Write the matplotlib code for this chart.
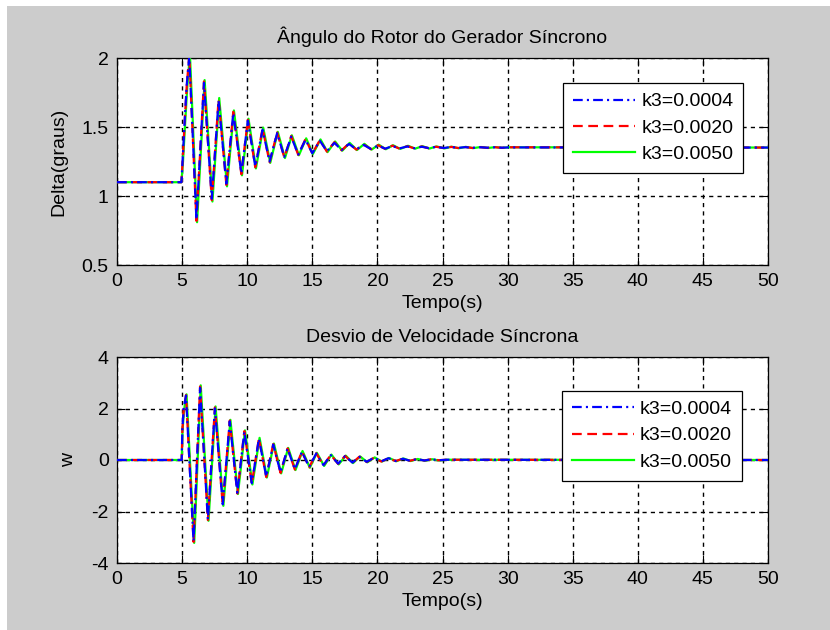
import matplotlib
matplotlib.use('Agg')
import matplotlib.pyplot as plt
from matplotlib.patches import Rectangle

plt.rcParams['font.family'] = ['Liberation Sans', 'DejaVu Sans']
plt.rcParams['lines.scale_dashes'] = False
plt.rcParams['font.size'] = 14

# Series setup
LABELS = ['k3=0.0004', 'k3=0.0020', 'k3=0.0050']
COLORS = ['#0000ff', '#ff0000', '#00ff00']
STYLES = [(0, (7, 3, 1.5, 3)), (0, (7, 4)), '-']

# Rotor angle (extrema of the swing), time in s
T_DELTA = [0, 4.95, 5.05, 5.2, 5.35, 5.55, 6.1, 6.68, 7.28, 7.8, 8.4, 8.93, 9.55,
           10.05, 10.62, 11.18, 11.72, 12.3, 12.85, 13.38, 13.92, 14.48, 15.0,
           15.58, 16.12, 16.7, 17.25, 17.82, 18.38, 18.95, 19.5, 20.05, 20.6,
           21.15, 21.7, 22.3, 22.85, 23.4, 23.95, 24.5, 25.1, 25.65, 26.2, 26.75,
           27.3, 27.9, 28.45, 29.0, 29.55, 30.1, 50]
T_DELTA_G = [0, 4.95, 5.07, 5.23, 5.39, 5.6, 6.15, 6.73, 7.33, 7.85, 8.45, 8.98,
             9.6, 10.1, 10.67, 11.23, 11.77, 12.35, 12.9, 13.43, 13.97, 14.53,
             15.05, 15.63, 16.17, 16.75, 17.3, 17.87, 18.43, 19.0, 19.55, 20.1,
             20.65, 21.2, 21.75, 22.35, 22.9, 23.45, 24.0, 24.55, 25.15, 25.7,
             26.25, 26.8, 27.35, 27.95, 28.5, 29.05, 29.6, 30.15, 50]
DELTA_K0004 = [1.10, 1.10, 1.28, 1.55, 1.80, 2.01, 0.83, 1.82, 0.98, 1.69, 1.09,
               1.60, 1.165, 1.545, 1.215, 1.48, 1.25, 1.455, 1.283, 1.43, 1.30,
               1.408, 1.31, 1.40, 1.325, 1.385, 1.333, 1.377, 1.338, 1.37, 1.341,
               1.365, 1.343, 1.362, 1.345, 1.359, 1.346, 1.357, 1.347, 1.356,
               1.348, 1.355, 1.349, 1.354, 1.349, 1.353, 1.350, 1.353, 1.350,
               1.352, 1.351]
DELTA_K0020 = [1.10, 1.10, 1.27, 1.54, 1.79, 2.02, 0.82, 1.83, 0.97, 1.70, 1.08,
               1.61, 1.158, 1.552, 1.208, 1.488, 1.245, 1.46, 1.279, 1.435,
               1.298, 1.413, 1.308, 1.405, 1.322, 1.39, 1.331, 1.381, 1.336,
               1.374, 1.339, 1.368, 1.341, 1.365, 1.343, 1.361, 1.345, 1.359,
               1.346, 1.357, 1.347, 1.356, 1.348, 1.355, 1.348, 1.354, 1.349,
               1.354, 1.349, 1.353, 1.351]
DELTA_K0050 = [1.10, 1.10, 1.25, 1.52, 1.78, 2.03, 0.81, 1.84, 0.96, 1.71, 1.07,
               1.62, 1.15, 1.56, 1.20, 1.495, 1.24, 1.465, 1.275, 1.44, 1.295,
               1.418, 1.305, 1.41, 1.318, 1.395, 1.328, 1.385, 1.333, 1.378,
               1.336, 1.372, 1.339, 1.368, 1.341, 1.364, 1.343, 1.361, 1.344,
               1.359, 1.345, 1.357, 1.346, 1.356, 1.347, 1.355, 1.348, 1.354,
               1.349, 1.353, 1.351]

# Synchronous speed deviation
T_W = [0, 4.97, 5.02, 5.12, 5.3, 5.88, 6.38, 6.98, 7.52, 8.12, 8.66, 9.24, 9.78,
       10.35, 10.9, 11.46, 12.0, 12.56, 13.1, 13.66, 14.2, 14.76, 15.3, 15.86,
       16.42, 16.98, 17.52, 18.08, 18.62, 19.18, 19.74, 20.3, 20.85, 21.4,
       21.95, 22.5, 23.05, 23.6, 24.15, 24.7, 25.3, 50]
T_W_G = [0, 4.97, 5.03, 5.14, 5.34, 5.93, 6.43, 7.03, 7.57, 8.17, 8.71, 9.29,
         9.83, 10.4, 10.95, 11.51, 12.05, 12.61, 13.15, 13.71, 14.25, 14.81,
         15.35, 15.91, 16.47, 17.03, 17.57, 18.13, 18.67, 19.23, 19.79, 20.35,
         20.9, 21.45, 22.0, 22.55, 23.1, 23.65, 24.2, 24.75, 25.35, 50]
W_K0004 = [0, 0, 1.2, 2.0, 2.5, -3.15, 2.8, -2.3, 2.0, -1.72, 1.5, -1.27, 1.1,
           -0.9, 0.82, -0.64, 0.6, -0.48, 0.44, -0.36, 0.32, -0.27, 0.25, -0.2,
           0.19, -0.14, 0.15, -0.1, 0.12, -0.07, 0.09, -0.05, 0.07, -0.04, 0.05,
           -0.03, 0.04, -0.02, 0.03, -0.01, 0.01, 0]
W_K0020 = [0, 0, 1.15, 1.95, 2.52, -3.18, 2.85, -2.33, 2.04, -1.75, 1.53, -1.3,
           1.12, -0.92, 0.84, -0.66, 0.62, -0.5, 0.45, -0.37, 0.33, -0.28, 0.26,
           -0.21, 0.2, -0.15, 0.16, -0.11, 0.13, -0.08, 0.09, -0.06, 0.07, -0.04,
           0.05, -0.03, 0.04, -0.02, 0.03, -0.01, 0.01, 0]
W_K0050 = [0, 0, 1.1, 1.9, 2.55, -3.22, 2.9, -2.36, 2.08, -1.78, 1.56, -1.32,
           1.15, -0.95, 0.86, -0.68, 0.64, -0.52, 0.47, -0.39, 0.35, -0.3, 0.28,
           -0.23, 0.21, -0.17, 0.17, -0.12, 0.14, -0.09, 0.1, -0.06, 0.08, -0.05,
           0.06, -0.04, 0.04, -0.03, 0.03, -0.02, 0.01, 0]

X_TICKS = list(range(0, 51, 5))
DELTA_TICKS = [0.5, 1, 1.5, 2]
DELTA_TICKLABELS = ['0.5', '1', '1.5', '2']
W_TICKS = [-4, -2, 0, 2, 4]

W_PX, H_PX = 830, 630
fig = plt.figure(figsize=(W_PX / 100, H_PX / 100), dpi=100, facecolor='white')
fig.patches.append(Rectangle((7 / W_PX, 0), 1, 1 - 6 / H_PX, transform=fig.transFigure,
                             facecolor='#cccccc', edgecolor='none', zorder=-10))


def make_axes(top, bottom):
    return fig.add_axes([117 / W_PX, 1 - bottom / H_PX, 651 / W_PX, (bottom - top) / H_PX])


def style_axes(ax, title, ylabel, yticks, yticklabels, ylim):
    ax.set_xlim(0, 50)
    ax.set_ylim(*ylim)
    ax.set_xticks(X_TICKS)
    ax.set_yticks(yticks)
    ax.set_yticklabels(yticklabels)
    ax.tick_params(direction='in', top=True, right=True, length=6, width=0.8,
                   labelsize=14, pad=6)
    ax.grid(True, color='black', linestyle=(0, (3, 3)), linewidth=1.0)
    ax.set_axisbelow(True)
    for s in ax.spines.values():
        s.set_linewidth(0.9)
        s.set_color('black')
    ax.set_title(title, fontsize=14, pad=11)
    ax.set_xlabel('Tempo(s)', fontsize=14, labelpad=3)
    ax.set_ylabel(ylabel, fontsize=14, labelpad=10)


def draw(ax, times, series, anchor):
    handles = [None, None, None]
    for i in (2, 1, 0):
        (h,) = ax.plot(times[i], series[i], color=COLORS[i], linestyle=STYLES[i],
                       linewidth=1.6, zorder=3 + (2 - i), label=LABELS[i])
        handles[i] = h
    leg = ax.legend(handles, LABELS, loc='upper right', bbox_to_anchor=anchor,
                    fancybox=False, framealpha=1, edgecolor='black', fontsize=14,
                    handlelength=3.2, handletextpad=0.3, borderpad=0.5,
                    labelspacing=0.45, borderaxespad=0)
    leg.get_frame().set_linewidth(0.9)
    leg.set_zorder(10)


ax1 = make_axes(58, 265)
draw(ax1, [T_DELTA, T_DELTA, T_DELTA_G], [DELTA_K0004, DELTA_K0020, DELTA_K0050],
     (0.9616, 0.879))
style_axes(ax1, 'Ângulo do Rotor do Gerador Síncrono', 'Delta(graus)',
           DELTA_TICKS, DELTA_TICKLABELS, (0.5, 2))

ax2 = make_axes(357, 563)
draw(ax2, [T_W, T_W, T_W_G], [W_K0004, W_K0020, W_K0050], (0.9596, 0.836))
style_axes(ax2, 'Desvio de Velocidade Síncrona', 'w',
           W_TICKS, [str(v) for v in W_TICKS], (-4, 4))

fig.savefig('out.png', dpi=100, facecolor=fig.get_facecolor())
